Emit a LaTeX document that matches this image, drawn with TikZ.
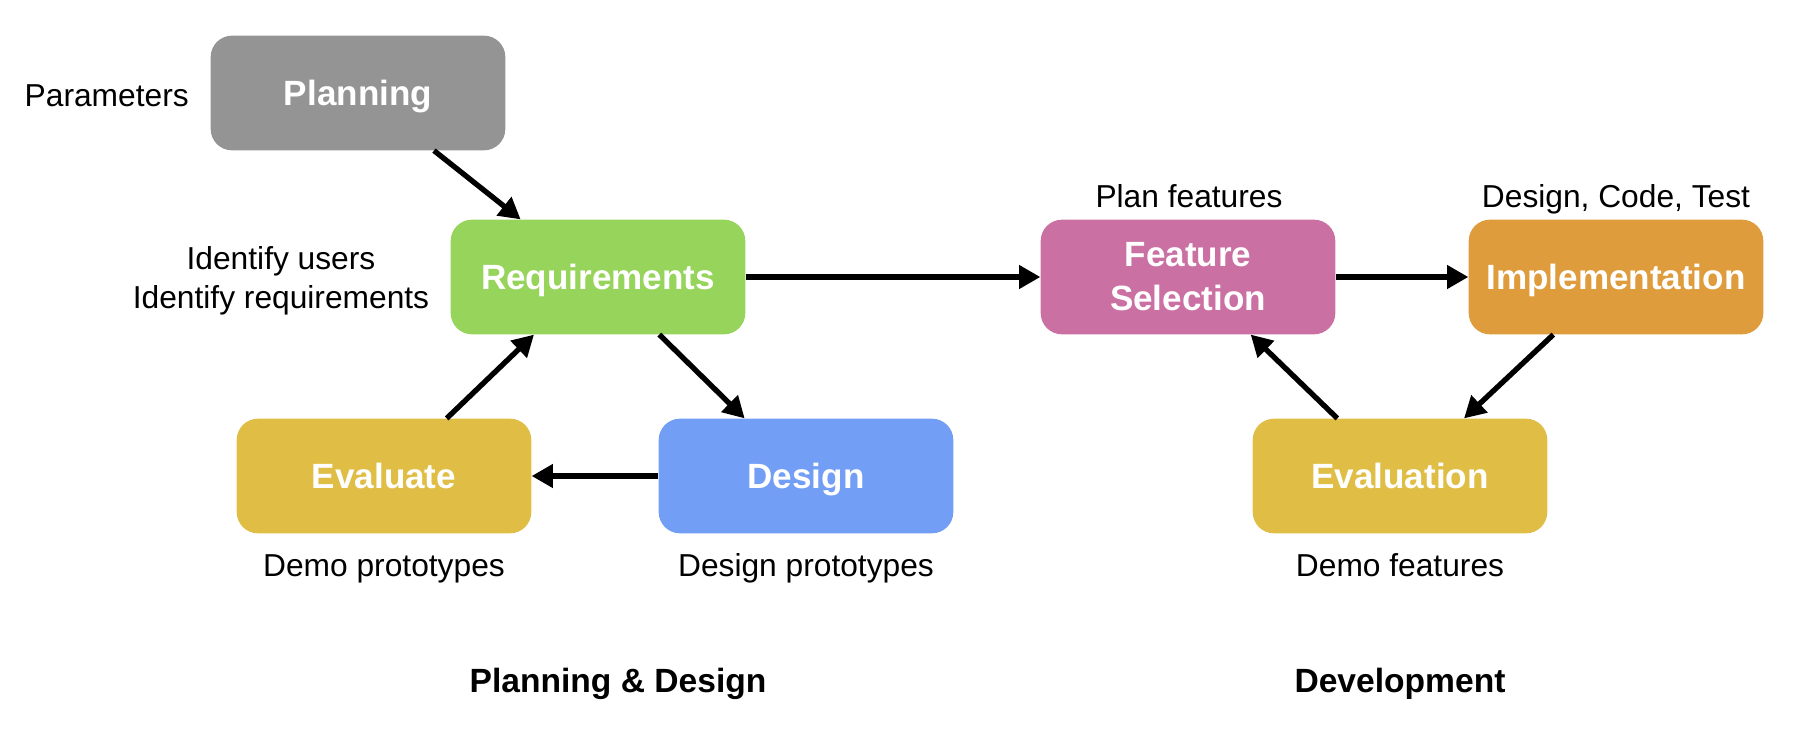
\documentclass[tikz,border=0pt]{standalone}
\usepackage{fontspec}
\setmainfont{Liberation Sans}
\usetikzlibrary{arrows.meta}
\definecolor{plangray}{HTML}{949494}
\definecolor{reqgreen}{HTML}{97D45B}
\definecolor{evalyellow}{HTML}{E0BE45}
\definecolor{designblue}{HTML}{729EF5}
\definecolor{featpink}{HTML}{CB70A2}
\definecolor{implorange}{HTML}{DF9C3C}

\tikzset{
  oneline/.style={text height=#1, text depth=0pt},
  stagebox/.style={rounded corners=16pt, minimum width=221pt, minimum height=86pt,
    text=white, font=\bfseries\fontsize{26.3}{33}\selectfont, align=center, inner sep=0pt},
  note/.style={font=\fontsize{23.8}{29.5}\selectfont, align=center, inner sep=0pt},
  title/.style={font=\bfseries\fontsize{25.2}{29}\selectfont, inner sep=0pt, oneline=18pt},
  flow/.style={line width=4pt, -{Triangle[length=16pt,width=17pt]}}
}

\begin{document}
\begin{tikzpicture}[x=0.75pt, y=-0.75pt]
  \useasboundingbox (0,0) rectangle (1810,732);
  % planning & design loop
  \node[stagebox, oneline=19pt, fill=plangray]   (plan)   at (358,93)  {Planning};
  \node[stagebox, oneline=19pt, fill=reqgreen]   (req)    at (598,277) {Requirements};
  \node[stagebox, oneline=19pt, fill=evalyellow] (evalu)  at (384,476) {Evaluate};
  \node[stagebox, oneline=19pt, fill=designblue] (design) at (806,476) {Design};
  % development loop
  \node[stagebox, fill=featpink]                 (feat)   at (1188,277) {Feature\\Selection};
  \node[stagebox, oneline=19pt, fill=implorange] (impl)   at (1616,277) {Implementation};
  \node[stagebox, oneline=19pt, fill=evalyellow] (evaln)  at (1400,476) {Evaluation};

  \node[note, oneline=17pt, anchor=east] (params) at (189,95)  {Parameters};
  \node[note] (ident)   at (281,281) {Identify users\\Identify requirements};
  \node[note, oneline=17pt] (demoproto) at (384,565) {Demo prototypes};
  \node[note, oneline=17pt] (desproto)  at (806,565) {Design prototypes};
  \node[note, oneline=17pt] (planfeat)  at (1189,196) {Plan features};
  \node[note, oneline=17pt] (dct)       at (1616,196) {Design, Code, Test};
  \node[note, oneline=17pt] (demofeat)  at (1400,565) {Demo features};

  \node[title] (pdtitle)  at (618,680)  {Planning \& Design};
  \node[title] (devtitle) at (1400,680) {Development};

  \draw[flow] ([xshift=57pt]plan.south) -- ([xshift=-58pt]req.north);
  \draw[flow] ([xshift=46pt]req.south) -- ([xshift=-46pt]design.north);
  \draw[flow] (design.west) -- (evalu.east);
  \draw[flow] ([xshift=47pt]evalu.north) -- ([xshift=-48pt]req.south);
  \draw[flow] (req.east) -- (feat.west);
  \draw[flow] (feat.east) -- (impl.west);
  \draw[flow] ([xshift=-47pt]impl.south) -- ([xshift=48pt]evaln.north);
  \draw[flow] ([xshift=-47pt]evaln.north) -- ([xshift=47pt]feat.south);
\end{tikzpicture}
\end{document}
